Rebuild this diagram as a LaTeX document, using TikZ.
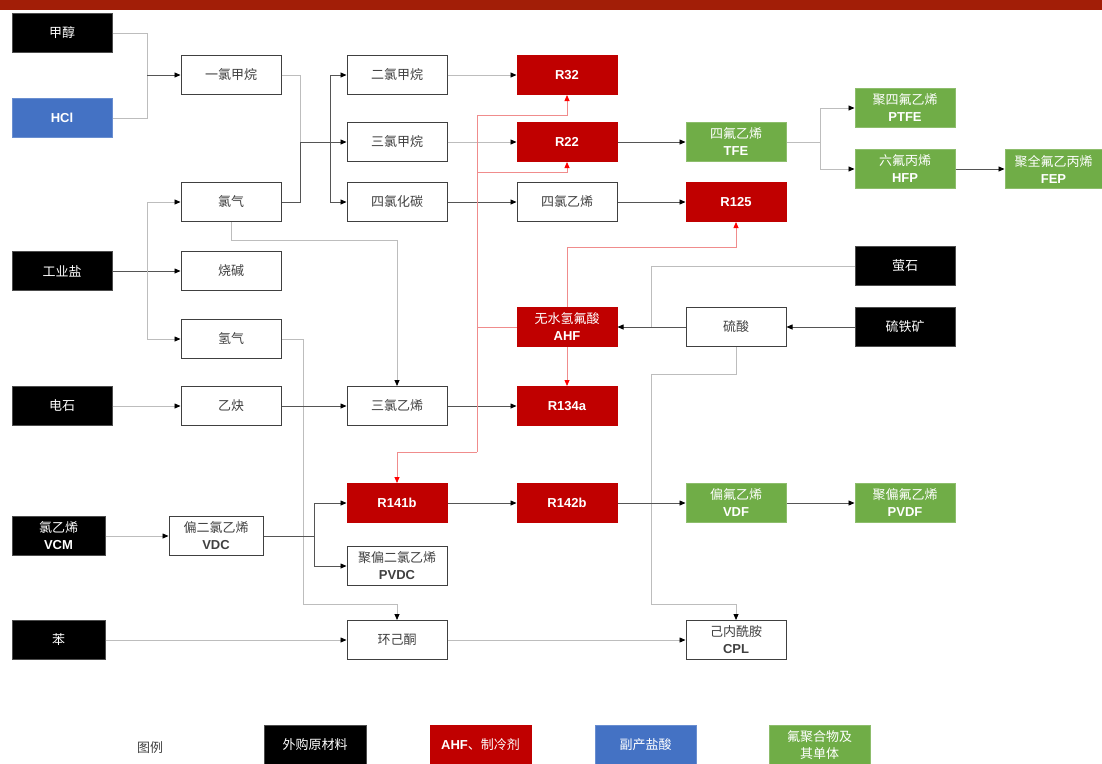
\documentclass[tikz,border=0pt]{standalone}
\usepackage{fontspec}
\setmainfont{Liberation Sans}
\newfontfamily\cjk{Noto Sans CJK SC}
\newfontfamily\enfont{Liberation Sans}
\usetikzlibrary{arrows.meta,positioning}
\definecolor{barred}{HTML}{A21E07}
\definecolor{refred}{HTML}{C00000}
\definecolor{hclblue}{HTML}{4472C4}
\definecolor{polygreen}{HTML}{70AD47}
\definecolor{lightline}{HTML}{BDBDBD}
\definecolor{darkline}{HTML}{555555}
\definecolor{hfred}{HTML}{F08C8C}
\newcommand{\en}[1]{{\enfont\bfseries #1}}

\tikzset{
  box/.style={draw=black!75, line width=1pt, minimum width=100pt, minimum height=39pt,
    inner sep=0pt, align=center, text=black!75, font=\cjk\fontsize{13}{17}\selectfont},
  raw/.style={box, fill=black, draw=black!70, text=white},
  hcl/.style={box, fill=hclblue, draw=hclblue!80, text=white},
  cool/.style={box, fill=refred, draw=refred, text=white},
  poly/.style={box, fill=polygreen, draw=polygreen!80, text=white},
  flow/.style={draw=lightline, line width=0.8pt, -{Triangle[length=6pt,width=5pt,color=black]}},
  flowdk/.style={draw=darkline, line width=0.8pt, -{Triangle[length=6pt,width=5pt,color=black]}},
  feed/.style={draw=lightline, line width=0.8pt},
  feeddk/.style={draw=darkline, line width=0.8pt},
  hf/.style={draw=hfred, line width=0.8pt, -{Triangle[length=6pt,width=5pt,color=red]}},
  hfline/.style={draw=hfred, line width=0.8pt}
}

\begin{document}
\begin{tikzpicture}[x=1pt, y=-1pt]
      \useasboundingbox (0,0) rectangle (1102,763);
      \fill[barred] (0,0) rectangle (1102,10);

      \node [raw] (meth) at (62,33) {甲醇};
      \node [hcl] (hcl) at (62,118) {\en{HCl}};
      \node [raw] (salt) at (62,271) {工业盐};
      \node [raw] (carbide) at (62,406) {电石};
      \node [raw, minimum width=93pt] (vcm) at (58.5,536) {氯乙烯\\\en{VCM}};
      \node [raw, minimum width=93pt] (benz) at (58.5,640) {苯};

      \node [box] (mcm) at (231,75) {一氯甲烷};
      \node [box] (cl2) at (231,202) {氯气};
      \node [box] (naoh) at (231,271) {烧碱};
      \node [box] (h2) at (231,339) {氢气};
      \node [box] (acet) at (231,406) {乙炔};
      \node [box, minimum width=94pt] (vdc) at (216,536) {偏二氯乙烯\\\en{VDC}};

      \node [box] (dcm) at (397,75) {二氯甲烷};
      \node [box] (tcm) at (397,142) {三氯甲烷};
      \node [box] (ccl4) at (397,202) {四氯化碳};
      \node [box] (tce) at (397,406) {三氯乙烯};
      \node [cool] (r141b) at (397,503) {\en{R141b}};
      \node [box] (pvdc) at (397,566) {聚偏二氯乙烯\\\en{PVDC}};
      \node [box] (cyc) at (397,640) {环己酮};

      \node [cool] (r32) at (567,75) {\en{R32}};
      \node [cool] (r22) at (567,142) {\en{R22}};
      \node [box] (pce) at (567,202) {四氯乙烯};
      \node [cool] (ahf) at (567,327) {无水氢氟酸\\\en{AHF}};
      \node [cool] (r134a) at (567,406) {\en{R134a}};
      \node [cool] (r142b) at (567,503) {\en{R142b}};

      \node [poly] (tfe) at (736,142) {四氟乙烯\\\en{TFE}};
      \node [cool] (r125) at (736,202) {\en{R125}};
      \node [box] (h2so4) at (736,327) {硫酸};
      \node [poly] (vdf) at (736,503) {偏氟乙烯\\\en{VDF}};
      \node [box] (cpl) at (736,640) {己内酰胺\\\en{CPL}};

      \node [poly] (ptfe) at (905,108) {聚四氟乙烯\\\en{PTFE}};
      \node [poly] (hfp) at (905,169) {六氟丙烯\\\en{HFP}};
      \node [raw] (fluor) at (905,266) {萤石};
      \node [raw] (pyrite) at (905,327) {硫铁矿};
      \node [poly] (pvdf) at (905,503) {聚偏氟乙烯\\\en{PVDF}};
      \node [poly, minimum width=97pt] (fep) at (1053.5,169) {聚全氟乙丙烯\\\en{FEP}};

      \coordinate (j1) at (147,75);
      \coordinate (j2) at (300,142);
      \coordinate (j3) at (330,142);
      \coordinate (j4) at (820,142);
      \coordinate (j5) at (147,271);
      \coordinate (j6) at (314,536);
      \coordinate (k1) at (397,240);
      \coordinate (k2) at (303,604);
      \coordinate (k4) at (651,327);
      \coordinate (k5) at (651,374);
      \coordinate (k6) at (651,604);
      \coordinate (r1) at (477,115);
      \coordinate (r2) at (477,172);
      \coordinate (r3) at (477,452);
      \coordinate (r4) at (736,247);

      \draw[feed] (meth.east) -| (j1);
      \draw[feed] (hcl.east) -| (j1);
      \draw[flowdk] (j1) -- (mcm.west);
      \draw[feed] (mcm.east) -| (j2);
      \draw[feeddk] (cl2.east) -| (j2);
      \draw[feeddk] (j2) -- (j3);
      \draw[flowdk] (j3) |- (dcm.west);
      \draw[flowdk] (j3) -- (tcm.west);
      \draw[flowdk] (j3) |- (ccl4.west);
      \draw[flow] (dcm) -- (r32);
      \draw[flow] (tcm) -- (r22);
      \draw[flowdk] (ccl4) -- (pce);
      \draw[flowdk] (pce) -- (r125);
      \draw[flowdk] (r22) -- (tfe);
      \draw[feed] (tfe) -- (j4);
      \draw[flow] (j4) |- (ptfe.west);
      \draw[flow] (j4) |- (hfp.west);
      \draw[flowdk] (hfp) -- (fep);

      \draw[flowdk] (salt) -- (naoh);
      \draw[flow] (j5) |- (cl2.west);
      \draw[flow] (j5) |- (h2.west);
      \draw[flow] (cl2.south) |- (k1) -- (tce.north);
      \draw[flow] (h2.east) -| (k2) -| (cyc.north);
      \draw[flow] (carbide) -- (acet);
      \draw[flowdk] (acet) -- (tce);
      \draw[flowdk] (tce) -- (r134a);

      \draw[feed] (fluor.west) -| (k4);
      \draw[flowdk] (h2so4) -- (ahf);
      \draw[flowdk] (pyrite) -- (h2so4);
      \draw[flow] (h2so4.south) |- (k5) -- (k6) -| (cpl.north);

      \draw[hfline] (ahf.west) -| (r1);
      \draw[hfline] (r1) -- (r3);
      \draw[hf] (r1) -| (r32.south);
      \draw[hf] (r2) -| (r22.south);
      \draw[hf] (r3) -| (r141b.north);
      \draw[hf] (ahf.north) |- (r4) -- (r125.south);
      \draw[hf] (ahf) -- (r134a);

      \draw[flow] (vcm) -- (vdc);
      \draw[feeddk] (vdc.east) -- (j6);
      \draw[flowdk] (j6) |- (r141b.west);
      \draw[flowdk] (j6) |- (pvdc.west);
      \draw[flowdk] (r141b) -- (r142b);
      \draw[flowdk] (r142b) -- (vdf);
      \draw[flowdk] (vdf) -- (pvdf);
      \draw[flow] (benz) -- (cyc);
      \draw[flow] (cyc) -- (cpl);

      \node [font=\cjk\fontsize{13}{17}\selectfont, text=black!75] (legend) at (150,748) {图例};
      \node [raw, minimum width=102pt, minimum height=40pt] (lgraw) at (315,745) {外购原材料};
      \node [cool, minimum width=101pt, minimum height=40pt] (lgcool) at (480.5,745) {\en{AHF}、制冷剂};
      \node [hcl, minimum width=101pt, minimum height=40pt] (lghcl) at (645.5,745) {副产盐酸};
      \node [poly, minimum width=101pt, minimum height=40pt] (lgpoly) at (819.5,745) {氟聚合物及\\其单体};
\end{tikzpicture}
\end{document}
